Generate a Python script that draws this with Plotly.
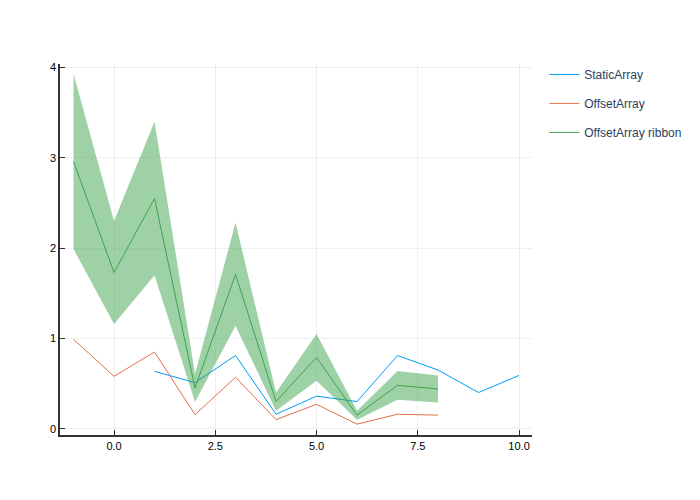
import plotly.graph_objects as go

# StaticArray series
static_x = [1, 2, 3, 4, 5, 6, 7, 8, 9, 10]
static_y = [0.635, 0.51, 0.81, 0.16, 0.36, 0.30, 0.81, 0.65, 0.40, 0.59]

# OffsetArray series
offset_x = [-1, 0, 1, 2, 3, 4, 5, 6, 7, 8]
offset_y = [0.99, 0.58, 0.85, 0.155, 0.57, 0.10, 0.27, 0.05, 0.16, 0.15]

# OffsetArray ribbon series (centre line and ribbon half-width)
ribbon_x = [-1, 0, 1, 2, 3, 4, 5, 6, 7, 8]
ribbon_y = [2.96, 1.73, 2.55, 0.45, 1.71, 0.30, 0.79, 0.15, 0.48, 0.44]
ribbon_w = [0.97, 0.57, 0.85, 0.155, 0.57, 0.10, 0.26, 0.05, 0.16, 0.15]

x_ticks = [0.0, 2.5, 5.0, 7.5, 10.0]
x_ticklabels = ["0.0", "2.5", "5.0", "7.5", "10.0"]
y_ticks = [0, 1, 2, 3, 4]
y_ticklabels = ["0", "1", "2", "3", "4"]

BLUE = "#009AFA"
ORANGE = "#E36F47"
GREEN = "#3EA44E"

lower = [y - w for y, w in zip(ribbon_y, ribbon_w)]
upper = [y + w for y, w in zip(ribbon_y, ribbon_w)]

fig = go.Figure()
fig.add_trace(go.Scatter(x=static_x, y=static_y, mode="lines", name="StaticArray",
                         line=dict(color=BLUE, width=1), legendgroup="a"))
fig.add_trace(go.Scatter(x=offset_x, y=offset_y, mode="lines", name="OffsetArray",
                         line=dict(color=ORANGE, width=1), legendgroup="b"))
fig.add_trace(go.Scatter(x=ribbon_x + ribbon_x[::-1], y=upper + lower[::-1],
                         mode="lines", fill="toself", fillcolor="rgba(62,164,78,0.5)",
                         line=dict(width=0, color="rgba(0,0,0,0)"), showlegend=False,
                         hoverinfo="skip"))
fig.add_trace(go.Scatter(x=ribbon_x, y=ribbon_y, mode="lines", name="OffsetArray ribbon",
                         line=dict(color=GREEN, width=1), legendgroup="c"))

axis_common = dict(showgrid=True, gridcolor="rgba(0,0,0,0.06)", gridwidth=0.5,
                   zeroline=False, showline=True, linecolor="rgba(0,0,0,0.8)", linewidth=1.5,
                   ticks="inside", ticklen=5, tickcolor="rgba(0,0,0,0.8)",
                   tickfont=dict(family="Liberation Sans, Arial, sans-serif", size=11, color="black"),
                   mirror=False)

fig.update_layout(
    width=700, height=500,
    margin=dict(l=60, r=168, t=64, b=65),
    paper_bgcolor="white", plot_bgcolor="white",
    xaxis=dict(range=[-1.334, 10.32], tickvals=x_ticks, ticktext=x_ticklabels, **axis_common),
    yaxis=dict(range=[-0.07, 4.04], tickvals=y_ticks, ticktext=y_ticklabels, **axis_common),
    legend=dict(x=1.026, y=1.011, xanchor="left", yanchor="top", traceorder="grouped",
                tracegroupgap=10, bgcolor="rgba(255,255,255,0)",
                font=dict(family="Liberation Sans, Arial, sans-serif", size=12, color="#2a3f5f")),
    showlegend=True,
)

fig.write_html("out.html")
